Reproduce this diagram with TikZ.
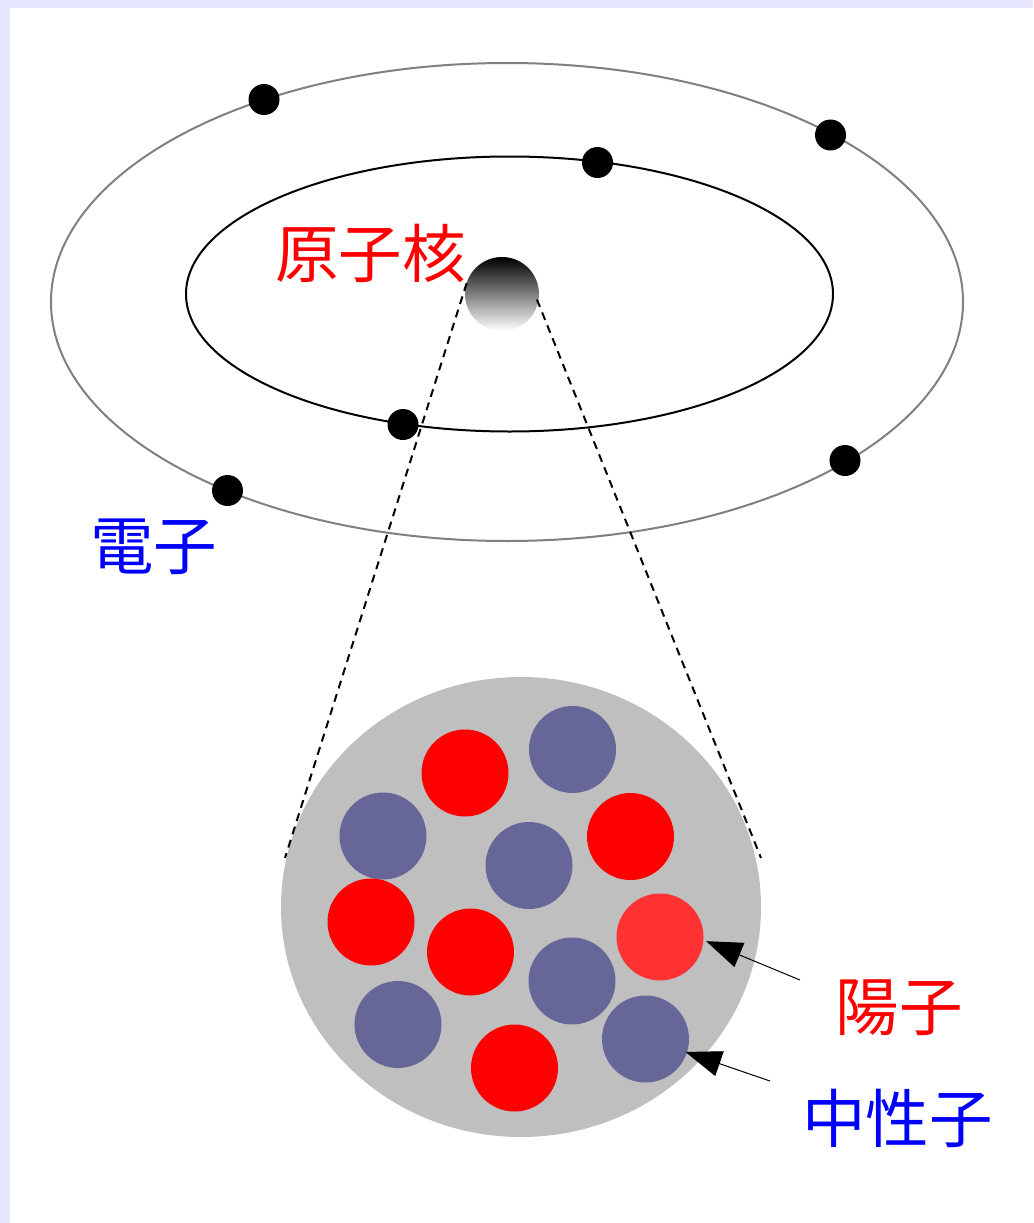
\documentclass[tikz,border=0pt]{standalone}
\usepackage{fontspec}
\usetikzlibrary{shapes.geometric,arrows.meta}
\newfontfamily\jpfont{Noto Sans CJK JP}
\definecolor{pagebg}{HTML}{E6E6FF}
\definecolor{neutroncol}{HTML}{666699}
\definecolor{brightproton}{HTML}{FF3333}
\definecolor{corecol}{HTML}{BFBFBF}
\tikzset{
  orbit/.style={ellipse,draw=#1,line width=2pt,inner sep=0pt,outer sep=0pt},
  electron/.style={circle,fill=black,inner sep=0pt,outer sep=0pt,minimum size=31pt},
  nucleon/.style={circle,fill=#1,inner sep=0pt,outer sep=0pt,minimum size=87pt},
  caption/.style={text=#1,font=\jpfont\fontsize{63.5}{64}\selectfont,inner sep=0pt},
  zoomline/.style={draw=black,line width=2pt,dash pattern=on 8pt off 5.9pt},
  pointer/.style={draw=black,line width=1pt,-{Triangle[length=36pt,width=26pt]}}
}
\begin{document}
\begin{tikzpicture}[x=1pt,y=-1pt]
  \useasboundingbox (0,0) rectangle (1033,1223);
  \fill[pagebg] (0,0) rectangle (1033,1223);
  \fill[white] (10,8) rectangle (1033,1223);

  % electron shells
  \node[orbit=gray,minimum width=912pt,minimum height=478pt] (outer) at (507,302) {};
  \node[orbit=black,minimum width=647pt,minimum height=275pt] (inner) at (509.5,294) {};

  % nucleus in the atom
  \node[circle,inner sep=0pt,outer sep=0pt,minimum size=74pt,top color=black,bottom color=white] (nuc) at (502,294) {};

  % enlarged nucleus
  \node[ellipse,fill=corecol,inner sep=0pt,outer sep=0pt,minimum width=480pt,minimum height=460pt] (core) at (521,907) {};
  \coordinate (zoomL) at (285,858);
  \coordinate (zoomR) at (761,858);
  \draw[zoomline] (nuc.163) -- (zoomL);
  \draw[zoomline,shorten <=-3pt] (nuc.-13) -- (zoomR);

  % electrons
  \node[electron] (e1) at (264,99.5) {};
  \node[electron] (e2) at (830.5,135) {};
  \node[electron] (e3) at (597.5,162.5) {};
  \node[electron] (e4) at (403,424.5) {};
  \node[electron] (e5) at (227.5,490.5) {};
  \node[electron] (e6) at (845,460.5) {};

  % protons and neutrons
  \node[nucleon=red] (p1) at (465,773) {};
  \node[nucleon=neutroncol] (n1) at (572.5,749.5) {};
  \node[nucleon=neutroncol] (n2) at (383,836) {};
  \node[nucleon=neutroncol] (n3) at (529,865.5) {};
  \node[nucleon=red] (p2) at (630.5,836.5) {};
  \node[nucleon=red] (p3) at (371,922) {};
  \node[nucleon=red] (p4) at (470.5,952) {};
  \node[nucleon=brightproton] (p5) at (660,937) {};
  \node[nucleon=neutroncol] (n4) at (572,981) {};
  \node[nucleon=neutroncol] (n5) at (645.5,1039) {};
  \node[nucleon=neutroncol] (n6) at (398,1024.5) {};
  \node[nucleon=red] (p6) at (514.5,1068) {};

  % labels
  \node[caption=red] (lnuc) at (370.5,253.5) {原子核};
  \node[caption=blue] (lele) at (153.5,547) {電子};
  \node[caption=red] (lpro) at (899,1007.5) {陽子};
  \node[caption=blue] (lneu) at (897.5,1118) {中性子};

  % pointers to the nucleons
  \coordinate (fromP) at (800,980);
  \coordinate (fromN) at (770,1081);
  \draw[pointer,shorten >=3pt] (fromP) -- (p5.-4);
  \draw[pointer,shorten >=-1.5pt] (fromN) -- (n5.-18);
\end{tikzpicture}
\end{document}
